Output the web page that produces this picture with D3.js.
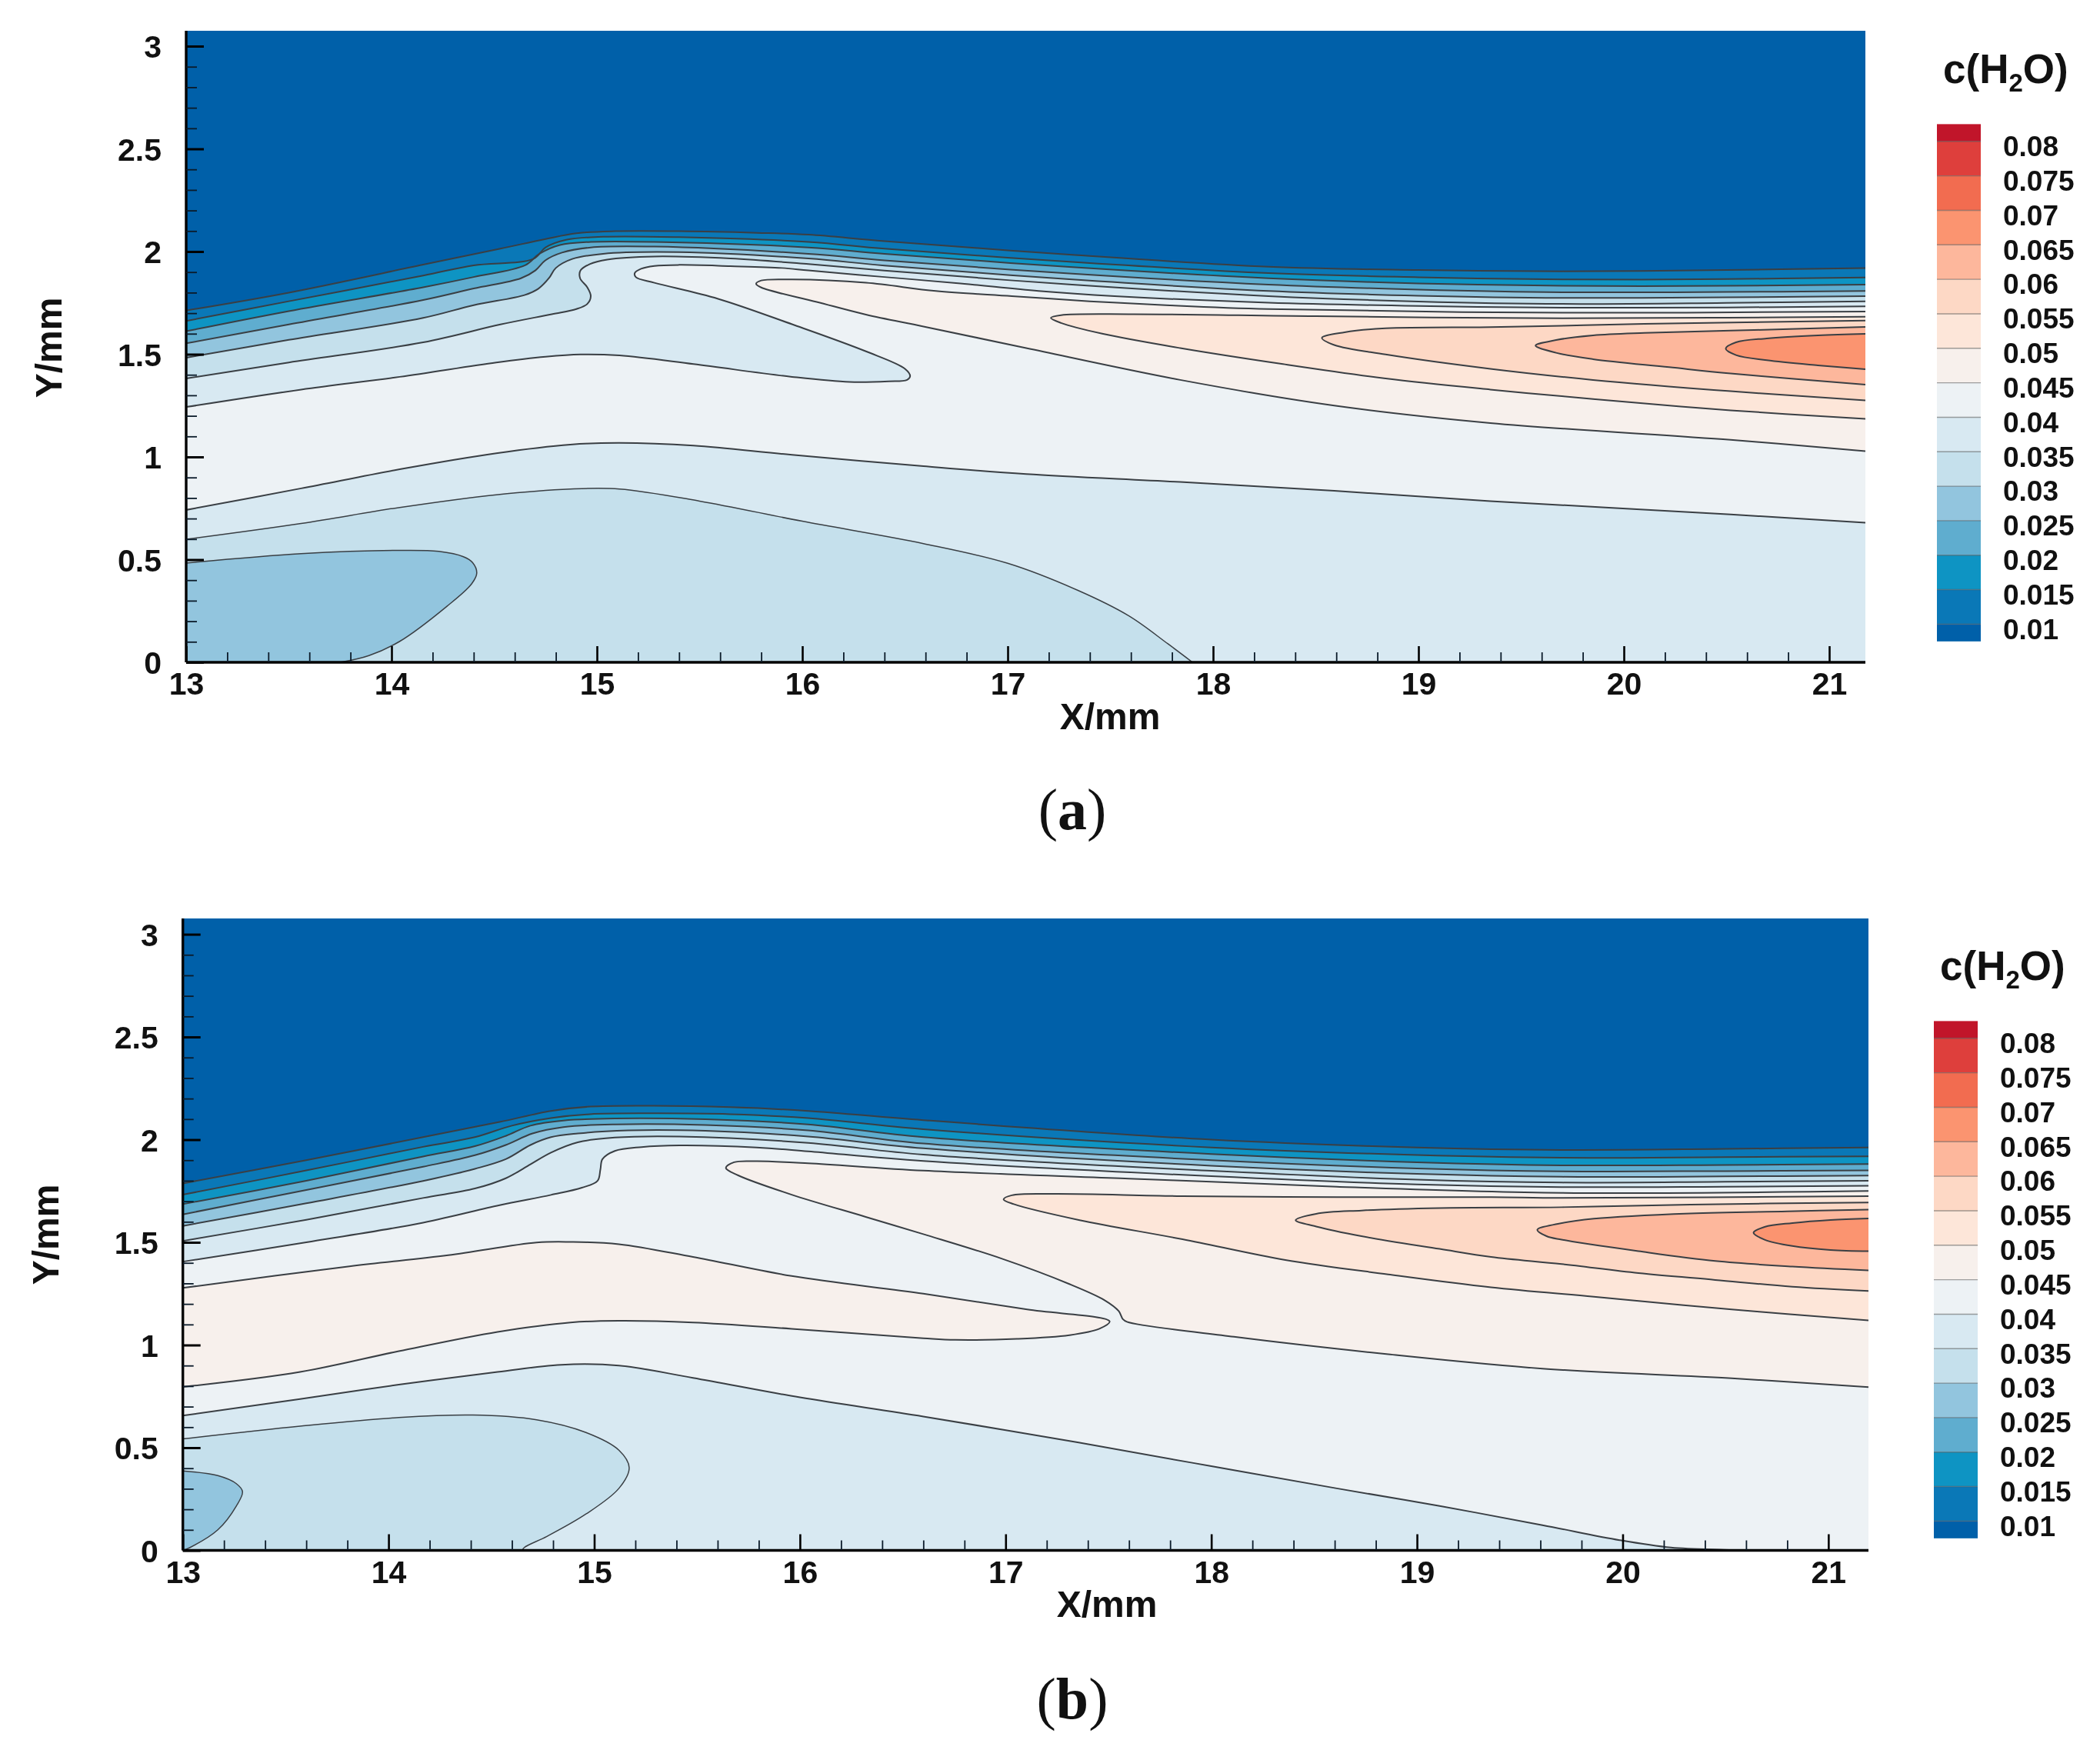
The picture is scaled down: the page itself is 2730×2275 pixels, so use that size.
<!DOCTYPE html>
<html><head><meta charset="utf-8">
<script src="https://cdn.jsdelivr.net/npm/d3@7/dist/d3.min.js"></script>
<style>html,body{margin:0;padding:0;background:#fff}svg{display:block;filter:blur(0.6px)}
text{font-family:"Liberation Sans",Arial,sans-serif;font-weight:700;fill:#111}</style></head>
<body><svg id="c" width="2730" height="2275"></svg>
<script>
// ---- legend ----
const levels=[0.08,0.075,0.07,0.065,0.06,0.055,0.05,0.045,0.04,0.035,0.03,0.025,0.02,0.015,0.01];
const levelLabels=["0.08","0.075","0.07","0.065","0.06","0.055","0.05","0.045","0.04","0.035","0.03","0.025","0.02","0.015","0.01"];
const bandColors=["#c1152a","#de3f3c","#f26c50","#fb9470","#fdb79c","#fdd8c5","#fde6d9","#f7f0ec","#edf2f5","#d8e9f2","#c5e0ec","#92c5de","#5fadcf","#0e94c3","#0a78b7","#0060a9"];
const xMajor=[13,14,15,16,17,18,19,20,21];
const xMinor=[13.2,13.4,13.6,13.8,14.2,14.4,14.6,14.8,15.2,15.4,15.6,15.8,16.2,16.4,16.6,16.8,17.2,17.4,17.6,17.8,18.2,18.4,18.6,18.8,19.2,19.4,19.6,19.8,20.2,20.4,20.6,20.8];
const yMajor=[0,0.5,1,1.5,2,2.5,3];
const yMinor=[0.1,0.2,0.3,0.4,0.6,0.7,0.8,0.9,1.1,1.2,1.3,1.4,1.6,1.7,1.8,1.9,2.1,2.2,2.3,2.4,2.6,2.7,2.8,2.9];

// ---- panel (a) contour lines, [X mm, Y mm] ----
const aL1=[[13,1.713],[13.5,1.80],[14.154,1.936],[14.53,2.014],[14.75,2.061],[14.90,2.089],[15.09,2.099],[15.40,2.099],[15.78,2.091],[16.03,2.082],[16.40,2.051],[17.3,1.985],[18.27,1.926],[19.0,1.91],[19.7,1.904],[20.5,1.91],[21.176,1.92]];
const aL2=[[13,1.662],[13.5,1.758],[14.154,1.883],[14.40,1.933],[14.69,1.964],[14.75,2.02],[14.85,2.057],[15.03,2.072],[15.40,2.07],[16.03,2.047],[16.40,2.014],[17.3,1.95],[18.27,1.895],[19.0,1.875],[19.7,1.864],[20.5,1.866],[21.176,1.874]];
const aL3=[[13,1.612],[13.5,1.71],[14.154,1.826],[14.40,1.876],[14.65,1.933],[14.72,1.989],[14.82,2.032],[14.97,2.047],[15.28,2.047],[16.03,2.02],[16.40,1.989],[17.3,1.925],[18.27,1.870],[19.0,1.845],[19.7,1.833],[20.5,1.833],[21.176,1.839]];
const aL4=[[13,1.553],[13.5,1.645],[14.154,1.764],[14.40,1.82],[14.63,1.87],[14.70,1.908],[14.75,1.958],[14.83,1.995],[14.97,2.02],[15.28,2.024],[16.03,1.989],[16.40,1.957],[17.3,1.893],[18.27,1.839],[19.0,1.815],[19.7,1.802],[20.5,1.803],[21.176,1.808]];
const aL5=[[13,1.483],[13.5,1.57],[14.154,1.677],[14.40,1.739],[14.65,1.789],[14.716,1.82],[14.766,1.87],[14.80,1.92],[14.88,1.964],[15.03,1.989],[15.40,1.997],[16.03,1.966],[16.40,1.932],[17.3,1.865],[18.27,1.808],[19.0,1.785],[19.7,1.774],[20.5,1.777],[21.176,1.783]];
const aL6=[[13,1.382],[13.5,1.46],[14.154,1.558],[14.53,1.645],[14.78,1.695],[14.90,1.72],[14.953,1.745],[14.97,1.783],[14.953,1.826],[14.918,1.87],[14.92,1.908],[14.965,1.939],[15.05,1.961],[15.28,1.976],[15.65,1.966],[16.03,1.939],[16.40,1.907],[17.3,1.84],[18.27,1.783],[19.0,1.757],[19.7,1.745],[20.5,1.75],[21.176,1.758]];
const aL7=[[13,1.243],[13.56,1.328],[14.04,1.39],[14.51,1.46],[14.75,1.488],[14.92,1.499],[15.11,1.494],[15.47,1.452],[15.95,1.39],[16.23,1.365],[16.42,1.368],[16.51,1.375],[16.525,1.393],[16.50,1.429],[16.31,1.514],[15.95,1.646],[15.59,1.77],[15.28,1.848],[15.19,1.875],[15.184,1.895],[15.215,1.916],[15.28,1.93],[15.40,1.935],[15.65,1.929],[15.90,1.92],[16.03,1.908],[16.40,1.876],[16.77,1.845],[17.15,1.808],[17.52,1.783],[18.27,1.751],[19.0,1.735],[19.7,1.727],[20.5,1.728],[21.176,1.733]];
const aLow1=[[13,0.742],[13.56,0.847],[14.04,0.94],[14.51,1.018],[14.87,1.06],[15.11,1.068],[15.47,1.055],[15.95,1.01],[16.59,0.955],[17.09,0.917],[17.84,0.878],[18.59,0.835],[19.35,0.785],[20.52,0.72],[21.176,0.68]];
const aLow2=[[13,0.599],[13.56,0.676],[14.04,0.754],[14.51,0.816],[14.87,0.844],[15.11,0.844],[15.5,0.785],[16.0,0.687],[16.59,0.578],[17.0,0.482],[17.34,0.351],[17.59,0.226],[17.78,0.09],[17.90,0]];
const aLow3=[[13,0.483],[13.56,0.529],[14.04,0.545],[14.23,0.54],[14.35,0.514],[14.395,0.485],[14.415,0.435],[14.39,0.382],[14.27,0.273],[14.04,0.102],[13.89,0.033],[13.75,0]];
const aC050=[[21.176,1.708],[19.7,1.702],[18.27,1.72],[17.77,1.739],[17.40,1.758],[17.02,1.783],[16.65,1.808],[16.31,1.848],[15.95,1.864],[15.80,1.859],[15.775,1.843],[15.80,1.825],[16.07,1.755],[16.31,1.693],[16.59,1.635],[17.09,1.53],[17.84,1.375],[18.59,1.25],[19.35,1.165],[20.52,1.083],[21.176,1.028]];
const aC055=[[21.176,1.683],[20.5,1.678],[19.7,1.675],[18.5,1.685],[17.6,1.695],[17.26,1.69],[17.21,1.677],[17.26,1.652],[17.46,1.60],[17.84,1.53],[18.34,1.452],[18.84,1.382],[19.35,1.328],[19.85,1.282],[20.52,1.227],[21.176,1.185]];
const aC060=[[21.176,1.664],[20.1,1.648],[19.7,1.639],[19.35,1.632],[18.84,1.626],[18.64,1.607],[18.53,1.58],[18.59,1.545],[18.84,1.499],[19.35,1.429],[19.85,1.375],[20.52,1.32],[21.176,1.275]];
const aC065=[[21.176,1.633],[20.52,1.615],[20.1,1.604],[19.85,1.592],[19.67,1.569],[19.57,1.542],[19.67,1.507],[19.85,1.476],[20.22,1.437],[20.52,1.406],[21.176,1.352]];
const aC070=[[21.176,1.599],[20.945,1.592],[20.696,1.577],[20.546,1.558],[20.496,1.527],[20.546,1.496],[20.696,1.471],[20.945,1.446],[21.176,1.427]];

// ---- panel (b) contour lines, [X mm, Y mm] ----
const bL1=[[13,1.787],[13.6,1.90],[14.168,2.012],[14.54,2.086],[14.79,2.14],[14.98,2.161],[15.29,2.165],[15.66,2.158],[16.04,2.14],[16.6,2.095],[18,2.0],[19,1.962],[19.703,1.95],[20.5,1.955],[21.195,1.962]];
const bL2=[[13,1.732],[13.6,1.85],[14.168,1.965],[14.42,2.012],[14.60,2.068],[14.79,2.105],[14.98,2.124],[15.29,2.128],[15.66,2.124],[16.04,2.105],[16.6,2.051],[18,1.962],[19,1.925],[19.703,1.912],[20.5,1.915],[21.195,1.919]];
const bL3=[[13,1.686],[13.6,1.80],[14.168,1.918],[14.42,1.968],[14.57,2.018],[14.69,2.068],[14.85,2.093],[15.10,2.103],[15.54,2.099],[16.04,2.074],[16.6,2.012],[18,1.93],[19,1.89],[19.703,1.875],[20.5,1.877],[21.195,1.881]];
const bL4=[[13,1.636],[13.6,1.755],[14.168,1.868],[14.42,1.924],[14.57,1.974],[14.70,2.03],[14.85,2.061],[15.10,2.074],[15.54,2.071],[16.04,2.045],[16.6,1.981],[18,1.90],[19,1.86],[19.703,1.846],[20.5,1.847],[21.195,1.85]];
const bL5=[[13,1.58],[13.6,1.69],[14.168,1.799],[14.42,1.858],[14.57,1.905],[14.69,1.974],[14.79,2.012],[14.92,2.03],[15.165,2.045],[15.54,2.043],[16.04,2.015],[16.6,1.958],[18,1.873],[19,1.833],[19.703,1.819],[20.5,1.821],[21.195,1.825]];
const bL6=[[13,1.507],[13.6,1.61],[14.168,1.716],[14.42,1.762],[14.57,1.812],[14.69,1.88],[14.79,1.937],[14.92,1.987],[15.10,2.01],[15.415,2.015],[16.04,1.984],[16.6,1.927],[18,1.848],[19,1.805],[19.703,1.791],[20.5,1.795],[21.195,1.80]];
const bL7=[[13,1.406],[13.6,1.50],[14.168,1.596],[14.54,1.681],[14.79,1.731],[14.94,1.766],[15.016,1.799],[15.03,1.855],[15.04,1.905],[15.10,1.945],[15.23,1.964],[15.415,1.972],[15.79,1.962],[16.04,1.943],[16.6,1.896],[18,1.822],[19,1.782],[19.703,1.769],[20.5,1.771],[21.195,1.775]];
const bLow7=[[13,0.656],[13.57,0.737],[14.05,0.807],[14.53,0.869],[14.84,0.904],[15.12,0.90],[15.48,0.84],[16.0,0.745],[16.6,0.652],[17.355,0.525],[18,0.41],[18.61,0.302],[19.11,0.216],[19.61,0.123],[19.985,0.05],[20.235,0.014],[20.49,0.003],[20.62,0]];
const bTongue=[[13,1.278],[13.81,1.383],[14.29,1.437],[14.72,1.499],[14.885,1.502],[15.12,1.491],[15.48,1.429],[15.96,1.336],[16.6,1.25],[17.105,1.173],[17.506,1.115],[17.456,1.079],[17.31,1.048],[17.055,1.03],[16.755,1.025],[16.6,1.033],[15.96,1.079],[15.48,1.11],[15.12,1.118],[14.885,1.11],[14.53,1.064],[14.05,0.97],[13.57,0.869],[13,0.796]];
const bC050=[[21.195,1.75],[19.703,1.741],[18.61,1.771],[18,1.795],[17.6,1.81],[16.6,1.849],[16.04,1.885],[15.79,1.895],[15.68,1.89],[15.64,1.862],[15.70,1.826],[15.96,1.732],[16.32,1.624],[16.6,1.54],[16.98,1.421],[17.31,1.297],[17.48,1.219],[17.55,1.165],[17.57,1.126],[17.59,1.113],[18.11,1.04],[18.86,0.955],[19.61,0.885],[20.53,0.838],[21.195,0.795]];
const bC055=[[21.195,1.725],[19.703,1.716],[19.36,1.72],[18.61,1.72],[17.86,1.725],[17.23,1.736],[17.03,1.729],[16.99,1.709],[17.04,1.686],[17.36,1.608],[17.86,1.515],[18.36,1.414],[18.86,1.344],[19.36,1.281],[19.86,1.235],[20.53,1.173],[21.195,1.12]];
const bC060=[[21.195,1.694],[20.33,1.684],[19.703,1.671],[19.11,1.667],[18.73,1.655],[18.51,1.639],[18.41,1.608],[18.51,1.577],[18.73,1.53],[19.11,1.468],[19.36,1.429],[19.703,1.394],[20.077,1.35],[20.45,1.317],[20.825,1.284],[21.195,1.263]];
const bC065=[[21.195,1.659],[20.8,1.651],[20.33,1.641],[19.86,1.615],[19.685,1.59],[19.585,1.561],[19.63,1.53],[19.703,1.513],[20.077,1.457],[20.45,1.409],[20.825,1.382],[21.195,1.363]];
const bC070=[[21.195,1.616],[21.01,1.609],[20.825,1.594],[20.69,1.575],[20.636,1.547],[20.69,1.513],[20.825,1.482],[21.01,1.463],[21.195,1.457]];
const bIsl1=[[13,0.543],[13.57,0.605],[14.05,0.647],[14.41,0.659],[14.72,0.636],[14.96,0.574],[15.12,0.488],[15.17,0.403],[15.12,0.302],[14.96,0.177],[14.77,0.068],[14.66,0.014],[14.65,0]];
const bIsl2=[[13,0.387],[13.17,0.364],[13.26,0.325],[13.29,0.286],[13.26,0.216],[13.17,0.10],[13.035,0.014],[13,0]];

// the band colour for a concentration value
const colorOf=v=>{const k=levels.findIndex(l=>l<=v+1e-9);return bandColors[k<0?bandColors.length-1:k];};
const panelA={left:242,right:2425,y0:861,top:40,xMax:21.176,yMax:3.075,id:"a",tag:"a",
  ldx:0,ldy:0,tx:1443,ty:948,yx:80,yy:452,
  below:[[aL1,.012],[aL2,.017],[aL3,.022],[aL4,.027],[aL5,.032],[aL6,.037]],
  bands:[{top:aL7,bot:aLow1,v:.042}],
  closed:[[aC050,.047],[aC055,.052],[aC060,.057],[aC065,.062],[aC070,.067]],
  islands:[[aLow2,.032],[aLow3,.027]]};
const panelB={left:237.7,right:2429,y0:2015.5,top:1194,xMax:21.195,yMax:3.077,id:"b",tag:"b",
  ldx:-4,ldy:1166,tx:1439,ty:2102,yx:76,yy:1605,
  below:[[bL1,.012],[bL2,.017],[bL3,.022],[bL4,.027],[bL5,.032],[bL6,.037]],
  bands:[{top:bL7,bot:bLow7,v:.042,wrap:true}],
  closed:[[bTongue,.047],[bC050,.047],[bC055,.052],[bC060,.057],[bC065,.062],[bC070,.067]],
  islands:[[bIsl1,.032],[bIsl2,.027]]};

const svg=d3.select("#c");
function drawPanel(p){
  const x=d3.scaleLinear().domain([13,p.xMax]).range([p.left,p.right]);
  const y=d3.scaleLinear().domain([0,p.yMax]).range([p.y0,p.top]);
  const line=d3.line().x(d=>x(d[0])).y(d=>y(d[1])).curve(d3.curveCatmullRom.alpha(0.5));
  const cid="clip-"+p.id;
  svg.append("clipPath").attr("id",cid).append("rect").attr("x",p.left).attr("y",p.top).attr("width",p.right-p.left).attr("height",p.y0-p.top);
  const g=svg.append("g").attr("clip-path",`url(#${cid})`);
  g.append("rect").attr("x",p.left).attr("y",p.top).attr("width",p.right-p.left).attr("height",p.y0-p.top).attr("fill",colorOf(.007));
  const fills=g.append("g"),strokes=g.append("g");
  const corners=`L${x(p.xMax)},${y(0)}L${x(13)},${y(0)}Z`;
  const cornerLeft=`L${x(13)},${y(0)}Z`;
  const fill=(d,v)=>fills.append("path").attr("d",d).attr("fill",colorOf(v)).attr("stroke","none");
  const stroke=(pts,w)=>strokes.append("path").attr("d",line(pts)).attr("fill","none").attr("stroke","#3a3f44").attr("stroke-width",w||2);
  p.below.forEach(([pts,v])=>{fill(line(pts)+corners,v);stroke(pts);});
  p.bands.forEach(b=>{
    const rev=b.bot.slice().reverse();
    const mid=b.wrap?`L${x(p.xMax)},${y(0)}`:"";
    fill(line(b.top)+mid+"L"+line(rev).slice(1)+"Z",b.v);
    stroke(b.top);stroke(b.bot);
  });
  p.closed.forEach(([pts,v])=>{fill(line(pts)+"Z",v);stroke(pts);});
  p.islands.forEach(([pts,v])=>{fill(line(pts)+cornerLeft,v);stroke(pts,1.5);});

  // axes
  const ax=svg.append("g").attr("transform",`translate(0,${p.y0})`);
  ax.call(d3.axisBottom(x).tickValues(xMajor).tickSizeInner(-21).tickSizeOuter(0).tickFormat(d=>String(d)));
  ax.selectAll("line").attr("stroke","#000").attr("stroke-width",2.6);
  ax.selectAll("text").attr("y",42).attr("dy",0).attr("font-size",41).attr("text-anchor","middle");
  const axm=svg.append("g").attr("transform",`translate(0,${p.y0})`);
  axm.call(d3.axisBottom(x).tickValues(xMinor).tickSizeInner(-13).tickSizeOuter(0).tickFormat(""));
  axm.selectAll("line").attr("stroke","#0b1b2a").attr("stroke-width",1.8);
  const ay=svg.append("g").attr("transform",`translate(${p.left},0)`);
  ay.call(d3.axisLeft(y).tickValues(yMajor).tickSizeInner(-23).tickSizeOuter(0).tickFormat(d=>String(d)));
  ay.selectAll("line").attr("stroke","#000").attr("stroke-width",3);
  ay.selectAll("text").attr("x",-32).attr("dy","0.36em").attr("font-size",41);
  const aym=svg.append("g").attr("transform",`translate(${p.left},0)`);
  aym.call(d3.axisLeft(y).tickValues(yMinor).tickSizeInner(-14).tickSizeOuter(0).tickFormat(""));
  aym.selectAll("line").attr("stroke","#0b1b2a").attr("stroke-width",1.8);
  [ax,axm,ay,aym].forEach(s=>s.attr("font-family",null).attr("font-size",null));
  axm.select(".domain").remove();aym.select(".domain").remove();
  ax.select(".domain").attr("stroke","#000").attr("stroke-width",3.4).attr("d",`M${p.left},0H${p.right}`);
  ay.select(".domain").attr("stroke","#000").attr("stroke-width",3.4).attr("d",`M0,${p.top}V${p.y0}`);

  // axis titles
  svg.append("text").attr("x",p.tx).attr("y",p.ty).attr("text-anchor","middle").attr("font-size",48).text("X/mm");
  svg.append("text").attr("transform",`translate(${p.yx},${p.yy}) rotate(-90)`).attr("text-anchor","middle").attr("font-size",48).text("Y/mm");

  // legend
  const lx=2518+p.ldx,lw=57;
  const ls=d3.scaleLinear().domain([0.01,0.08]).range([811.4+p.ldy,183.8+p.ldy]);
  const edges=[0.0825].concat(levels,[0.0075]);
  const lg=svg.append("g");
  lg.selectAll("rect").data(bandColors).join("rect").attr("x",lx).attr("width",lw)
    .attr("y",(d,i)=>ls(edges[i])).attr("height",(d,i)=>ls(edges[i+1])-ls(edges[i])).attr("fill",d=>d);
  lg.selectAll("line").data(levels).join("line").attr("x1",lx).attr("x2",lx+lw).attr("y1",d=>ls(d)).attr("y2",d=>ls(d))
    .attr("stroke","#555").attr("stroke-opacity",0.55).attr("stroke-width",1.4);
  lg.selectAll("text").data(levelLabels).join("text").attr("x",2604+p.ldx).attr("y",(d,i)=>ls(levels[i])+6).attr("dy","0.36em").attr("font-size",37).text(d=>d);
  const t=svg.append("text").attr("x",2526+p.ldx).attr("y",108+p.ldy).attr("font-size",53);
  t.append("tspan").text("c(H");
  t.append("tspan").attr("dy",11).attr("font-size",33).text("2");
  t.append("tspan").attr("dy",-11).text("O)");

  // panel tag
  const tag=svg.append("text").attr("x",1394).attr("y",p.id==="a"?1078:2234).attr("text-anchor","middle")
    .attr("font-size",76).style("font-family",'"Liberation Serif",serif').style("font-weight",400);
  tag.append("tspan").text("(");
  tag.append("tspan").style("font-weight",700).text(p.tag);
  tag.append("tspan").text(")");
}
drawPanel(panelA);
drawPanel(panelB);
</script></body></html>
